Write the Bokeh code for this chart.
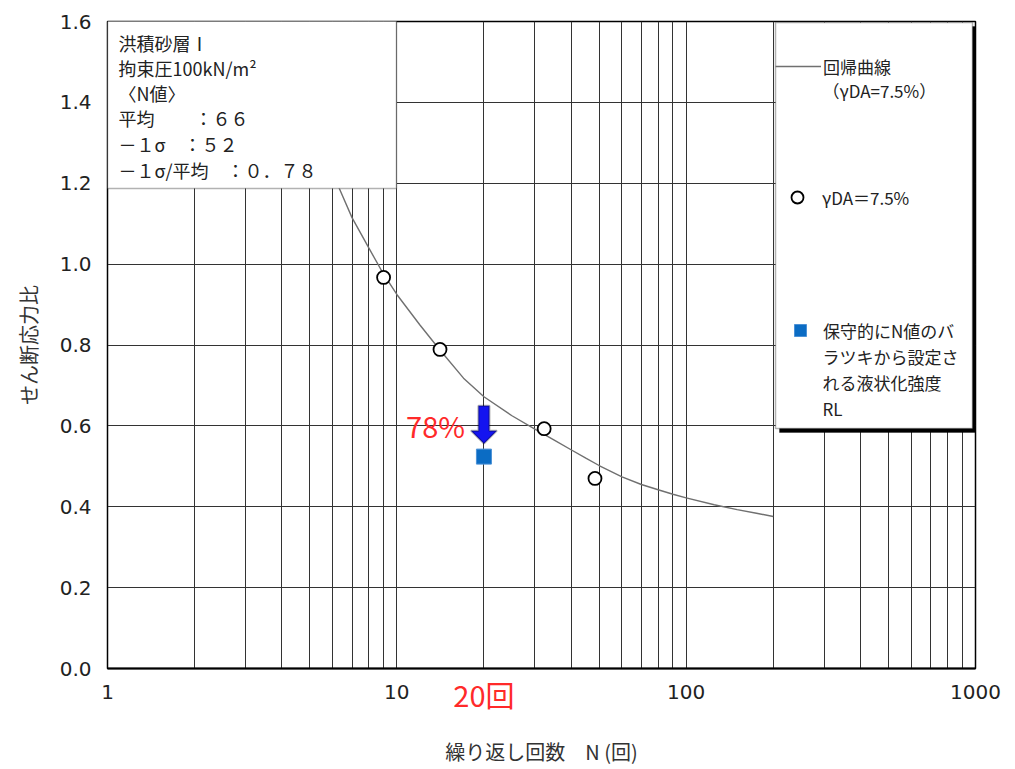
from bokeh.plotting import figure
from bokeh.models import (FixedTicker, BoxAnnotation, Label, Legend, LegendItem,
                          PolyAnnotation, Range1d, BasicTickFormatter, LogAxis)
from bokeh.embed import file_html
from bokeh.resources import INLINE

# ---------------- data ----------------
curve_n = [6.3, 7, 8, 9, 10, 12, 14, 17, 20, 25, 30, 35, 40, 45, 50, 60, 70, 80, 90, 100, 125, 150, 175, 200]
curve_r = [1.19, 1.115, 1.04, 0.975, 0.925, 0.85, 0.79, 0.718, 0.672, 0.625, 0.592, 0.565, 0.541, 0.52,
           0.502, 0.474, 0.455, 0.442, 0.431, 0.422, 0.405, 0.393, 0.384, 0.376]
test_n = [9.0, 14.1, 32.3, 48.4]
test_r = [0.967, 0.789, 0.593, 0.470]
design_n = [20]
design_r = [0.524]

x_major = [1, 10, 100, 1000]
x_minor = [m * d for d in (1, 10, 100) for m in range(2, 10)]
y_ticks = [0.0, 0.2, 0.4, 0.6, 0.8, 1.0, 1.2, 1.4, 1.6]

info_lines = ["洪積砂層Ⅰ", "拘束圧100kN/m²", "〈N値〉", "平均　　 ：６６", "－１σ　：５２", "－１σ/平均　：０．７８"]
legend_curve = ["回帰曲線", "（γDA=7.5%）"]
legend_points = ["γDA＝7.5%"]
legend_design = ["保守的にN値のバ", "ラツキから設定さ", "れる液状化強度", "RL"]
ratio_text = "78%"
n_text = "20回"
x_title = "繰り返し回数　N (回)"
y_title = "せん断応力比"

# arrow (annotation) from curve toward design value
arrow_top = 0.650
arrow_tip = 0.556
ratio_label_y = 0.603

JP = "Noto Sans CJK JP"
NUM = "DejaVu Sans"
RED = "#ff2a2a"

FW, FH = 868, 647
p = figure(frame_width=FW, frame_height=FH, x_axis_type="log",
           x_range=Range1d(1, 1000), y_range=Range1d(0, 1.6),
           output_backend="svg", toolbar_location=None,
           min_border_left=107, min_border_right=30, min_border_top=21, min_border_bottom=80)

p.background_fill_color = "white"
p.border_fill_color = "white"
p.outline_line_color = "black"
p.outline_line_width = 1.5

xax = p.xaxis[0]
yax = p.yaxis[0]
xax.ticker = FixedTicker(ticks=x_major, minor_ticks=x_minor)
xax.formatter = BasicTickFormatter()
yax.ticker = FixedTicker(ticks=y_ticks)
yax.major_label_overrides = {t: f"{t:.1f}" for t in y_ticks}

for ax in (xax, yax):
    ax.major_tick_line_color = None
    ax.minor_tick_line_color = None
    ax.major_label_text_font = NUM
    ax.major_label_text_font_size = "20px"
    ax.major_label_text_color = "#222222"
    ax.axis_label_text_font = JP
    ax.axis_label_text_font_size = "20px"
    ax.axis_label_text_font_style = "normal"
    ax.axis_label_text_color = "#333333"
    ax.major_label_standoff = 10
    ax.axis_line_color = "black"

xax.axis_line_width = 2
yax.axis_label = y_title
yax.axis_label_standoff = 14

# second bottom axis: red "20回" label on the same row as the tick labels, plus the title
ax2 = LogAxis(ticker=FixedTicker(ticks=design_n), formatter=BasicTickFormatter(),
              major_label_overrides={design_n[0]: n_text},
              major_label_text_color=RED, major_label_text_font=JP,
              major_label_text_font_size="29px", major_label_standoff=-35,
              major_tick_line_color=None, minor_tick_line_color=None, axis_line_color=None,
              axis_label=x_title, axis_label_text_font=JP, axis_label_text_font_size="20px",
              axis_label_text_font_style="normal", axis_label_text_color="#333333",
              axis_label_standoff=19)
p.add_layout(ax2, "below")

p.xgrid.grid_line_color = "#333333"
p.xgrid.minor_grid_line_color = "#333333"
p.ygrid.grid_line_color = "#333333"
p.xgrid.grid_line_width = 1
p.ygrid.grid_line_width = 1

# ---------------- glyphs ----------------
curve = p.line(curve_n, curve_r, line_color="#707070", line_width=1.4)
pts = p.scatter(test_n, test_r, marker="circle", size=13, fill_color="white",
                line_color="black", line_width=1.8)
sq = p.scatter(design_n, design_r, marker="square", size=15, fill_color="#0b6cc4",
               line_color="#4b91d6", line_width=1)

# ---------------- arrow ----------------
px_per_dec = FW / 3.0
px_per_unit = FH / 1.6
cx = design_n[0]
fs = 10 ** (5.5 / px_per_dec)
fh = 10 ** (13 / px_per_dec)
head_base = arrow_tip + 13 / px_per_unit
p.add_layout(PolyAnnotation(
    xs=[cx / fs, cx * fs, cx * fs, cx * fh, cx, cx / fh, cx / fs],
    ys=[arrow_top, arrow_top, head_base, head_base, arrow_tip, head_base, head_base],
    fill_color="#1414f0", fill_alpha=1, line_color="black", line_width=2))

p.add_layout(Label(x=cx, y=ratio_label_y, x_offset=-19, text=ratio_text,
                   text_align="right", text_baseline="middle", text_color=RED,
                   text_font=JP, text_font_size="29px"))

# ---------------- info box ----------------
p.add_layout(BoxAnnotation(left=0, right=289, top=648, bottom=480,
                           left_units="screen", right_units="screen",
                           top_units="screen", bottom_units="screen",
                           fill_color="white", fill_alpha=1, line_color="black", line_width=1.5))
info_y = [42, 67, 92, 117, 143, 169]
for t, yy in zip(info_lines, info_y):
    p.add_layout(Label(x=11, y=668 - yy, x_units="screen", y_units="screen", text=t,
                       text_baseline="middle", text_font=JP, text_font_size="18px",
                       text_color="#222222"))

# ---------------- legend box ----------------
p.add_layout(BoxAnnotation(left=672, right=869, top=642, bottom=236,
                           left_units="screen", right_units="screen",
                           top_units="screen", bottom_units="screen",
                           fill_color="black", fill_alpha=1, line_color="black"))
p.add_layout(BoxAnnotation(left=668, right=865, top=646, bottom=240,
                           left_units="screen", right_units="screen",
                           top_units="screen", bottom_units="screen",
                           fill_color="white", fill_alpha=1, line_color="black", line_width=1.5))


def make_legend(label, renderer, loc, gw, gh, standoff):
    lg = Legend(items=[LegendItem(label=label, renderers=[renderer])], location=loc,
                glyph_width=gw, glyph_height=gh, label_height=gh, label_standoff=standoff,
                padding=0, margin=0, spacing=0, border_line_color=None,
                background_fill_alpha=0, label_text_font=JP, label_text_font_size="17px",
                label_text_color="#222222")
    p.add_layout(lg, "center")


make_legend(legend_curve[0], curve, (668, 587), 46, 30, 2)
make_legend(legend_points[0], pts, (675, 456), 30, 30, 10)
make_legend(legend_design[0], sq, (678, 323), 30, 30, 8)

p.add_layout(Label(x=715, y=668 - 90, x_units="screen", y_units="screen", text=legend_curve[1],
                   text_baseline="middle", text_font=JP, text_font_size="17px", text_color="#222222"))
for t, yy in zip(legend_design[1:], [356, 382, 408]):
    p.add_layout(Label(x=715, y=668 - yy, x_units="screen", y_units="screen", text=t,
                       text_baseline="middle", text_font=JP, text_font_size="17px",
                       text_color="#222222"))

open("out.html", "w").write(file_html(p, INLINE))
